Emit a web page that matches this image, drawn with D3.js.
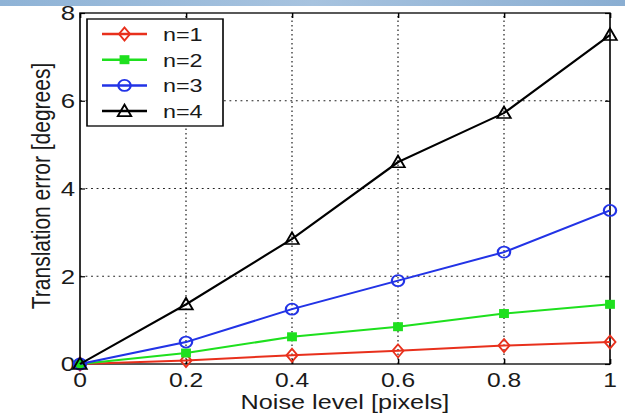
<!DOCTYPE html>
<html>
<head>
<meta charset="utf-8">
<script src="https://cdn.jsdelivr.net/npm/d3@7"></script>
<style>
  body { margin: 0; background: #fff; }
  svg { display: block; }
  text { font-family: "Liberation Sans", Arial, Helvetica, sans-serif; fill: #1a1a1a; }
</style>
</head>
<body>
<div id="chart"></div>
<script>
var noise = [0, 0.2, 0.4, 0.6, 0.8, 1];
var n1 = [0, 0.08, 0.2, 0.3, 0.42, 0.5];
var n2 = [0, 0.25, 0.62, 0.85, 1.15, 1.36];
var n3 = [0, 0.5, 1.25, 1.9, 2.55, 3.5];
var n4 = [0, 1.36, 2.85, 4.6, 5.72, 7.5];
var seriesNames = ['n=1', 'n=2', 'n=3', 'n=4'];
var xTicks = [0, 0.2, 0.4, 0.6, 0.8, 1];
var yTicks = [0, 2, 4, 6, 8];

var W = 625, H = 414;
// the picture is stretched sideways, so draw in a squeezed frame and scale it back
var sx = 1.23;

var series = [
  { name: seriesNames[0], values: n1, color: '#e8301c', marker: 'diamond' },
  { name: seriesNames[1], values: n2, color: '#1ee01e', marker: 'square' },
  { name: seriesNames[2], values: n3, color: '#2233e6', marker: 'circle' },
  { name: seriesNames[3], values: n4, color: '#000000', marker: 'triangle' }
];

var svg = d3.select('#chart').append('svg')
  .attr('width', W)
  .attr('height', H);

var grad = svg.append('defs').append('linearGradient')
  .attr('id', 'band')
  .attr('x1', 0).attr('x2', 1).attr('y1', 0).attr('y2', 0);
grad.append('stop').attr('offset', '0%').attr('stop-color', '#8fb3d6');
grad.append('stop').attr('offset', '50%').attr('stop-color', '#a7c3df');
grad.append('stop').attr('offset', '100%').attr('stop-color', '#8aaed2');
svg.append('rect')
  .attr('x', 0).attr('y', 0)
  .attr('width', W).attr('height', 6)
  .attr('fill', 'url(#band)');

var g = svg.append('g').attr('transform', 'scale(' + sx + ',1)');

var x = d3.scaleLinear().domain([0, 1]).range([80 / sx, 610 / sx]);
var y = d3.scaleLinear().domain([0, 8]).range([364, 13]);

// dotted grid
g.append('g')
  .selectAll('line')
  .data(xTicks.slice(1, -1))
  .enter()
  .append('line')
  .attr('x1', d => x(d)).attr('x2', d => x(d))
  .attr('y1', y(0)).attr('y2', y(8))
  .attr('stroke', '#222')
  .attr('stroke-width', 1)
  .attr('stroke-dasharray', '1.5,3');

g.append('g')
  .selectAll('line')
  .data(yTicks.slice(1, -1))
  .enter()
  .append('line')
  .attr('x1', x(0)).attr('x2', x(1))
  .attr('y1', d => y(d)).attr('y2', d => y(d))
  .attr('stroke', '#222')
  .attr('stroke-width', 1)
  .attr('stroke-dasharray', '1.5,3');

// inward ticks on all four sides, matlab style
var tl = 5;
g.append('g').call(d3.axisBottom(x).tickValues(xTicks).tickSize(-tl).tickFormat(''))
  .attr('transform', 'translate(0,' + y(0) + ')')
  .call(a => a.select('.domain').remove());
g.append('g').call(d3.axisTop(x).tickValues(xTicks).tickSize(-tl).tickFormat(''))
  .attr('transform', 'translate(0,' + y(8) + ')')
  .call(a => a.select('.domain').remove());
g.append('g').call(d3.axisLeft(y).tickValues(yTicks).tickSize(-tl / sx).tickFormat(''))
  .attr('transform', 'translate(' + x(0) + ',0)')
  .call(a => a.select('.domain').remove());
g.append('g').call(d3.axisRight(y).tickValues(yTicks).tickSize(-tl / sx).tickFormat(''))
  .attr('transform', 'translate(' + x(1) + ',0)')
  .call(a => a.select('.domain').remove());
g.selectAll('.tick line').attr('stroke', '#000').attr('stroke-width', 1.2);

g.append('rect')
  .attr('x', x(0)).attr('y', y(8))
  .attr('width', x(1) - x(0)).attr('height', y(0) - y(8))
  .attr('fill', 'none')
  .attr('stroke', '#000')
  .attr('stroke-width', 1.3);

// tick labels
g.append('g')
  .selectAll('text')
  .data(xTicks)
  .enter()
  .append('text')
  .attr('x', d => x(d))
  .attr('y', 387)
  .attr('text-anchor', 'middle')
  .attr('font-size', '20px')
  .text(d => d3.format('')(d));

g.append('g')
  .selectAll('text')
  .data(yTicks)
  .enter()
  .append('text')
  .attr('x', 75 / sx)
  .attr('y', d => y(d) + 7.5)
  .attr('text-anchor', 'end')
  .attr('font-size', '21px')
  .text(d => d);

g.append('text')
  .attr('x', x(0.5))
  .attr('y', 409.5)
  .attr('text-anchor', 'middle')
  .attr('font-size', '20.5px')
  .text('Noise level [pixels]');

g.append('text')
  .attr('transform', 'translate(' + (50 / sx) + ',' + 186 + ') rotate(-90)')
  .attr('text-anchor', 'middle')
  .attr('font-size', '21px')
  .text('Translation error [degrees]');

function drawMarker(sel, type, color) {
  if (type === 'diamond') {
    sel.append('path')
      .attr('d', 'M0,-6.5 L4.5,0 L0,6.5 L-4.5,0 Z')
      .attr('fill', 'none').attr('stroke', color).attr('stroke-width', 1.6);
  } else if (type === 'square') {
    sel.append('rect')
      .attr('x', -4).attr('y', -4.5).attr('width', 8).attr('height', 9)
      .attr('fill', color);
  } else if (type === 'circle') {
    sel.append('ellipse')
      .attr('rx', 5).attr('ry', 5.5)
      .attr('fill', 'none').attr('stroke', color).attr('stroke-width', 1.8);
  } else {
    sel.append('path')
      .attr('d', 'M0,-6.5 L5.5,5 L-5.5,5 Z')
      .attr('fill', 'none').attr('stroke', color).attr('stroke-width', 1.6);
  }
}

var line = d3.line()
  .x((d, i) => x(noise[i]))
  .y(d => y(d));

series.forEach(function (s) {
  var sg = g.append('g');
  sg.append('path')
    .attr('d', line(s.values))
    .attr('fill', 'none')
    .attr('stroke', s.color)
    .attr('stroke-width', 2);
  s.values.forEach(function (v, i) {
    var m = sg.append('g')
      .attr('transform', 'translate(' + x(noise[i]) + ',' + y(v) + ')');
    drawMarker(m, s.marker, s.color);
  });
});

// legend
var lg = g.append('g');
lg.append('rect')
  .attr('x', 87 / sx).attr('y', 19)
  .attr('width', (223 - 87) / sx).attr('height', 107)
  .attr('fill', '#fff')
  .attr('stroke', '#000')
  .attr('stroke-width', 1.3);

series.forEach(function (s, i) {
  var ly = 34 + i * 25.7;
  lg.append('line')
    .attr('x1', 102 / sx).attr('x2', 147 / sx)
    .attr('y1', ly).attr('y2', ly)
    .attr('stroke', s.color)
    .attr('stroke-width', 2.5);
  var m = lg.append('g').attr('transform', 'translate(' + (124.5 / sx) + ',' + ly + ')');
  drawMarker(m, s.marker, s.color);
  lg.append('text')
    .attr('x', 163 / sx)
    .attr('y', ly + 7)
    .attr('font-size', '19px')
    .text(s.name);
});
</script>
</body>
</html>
